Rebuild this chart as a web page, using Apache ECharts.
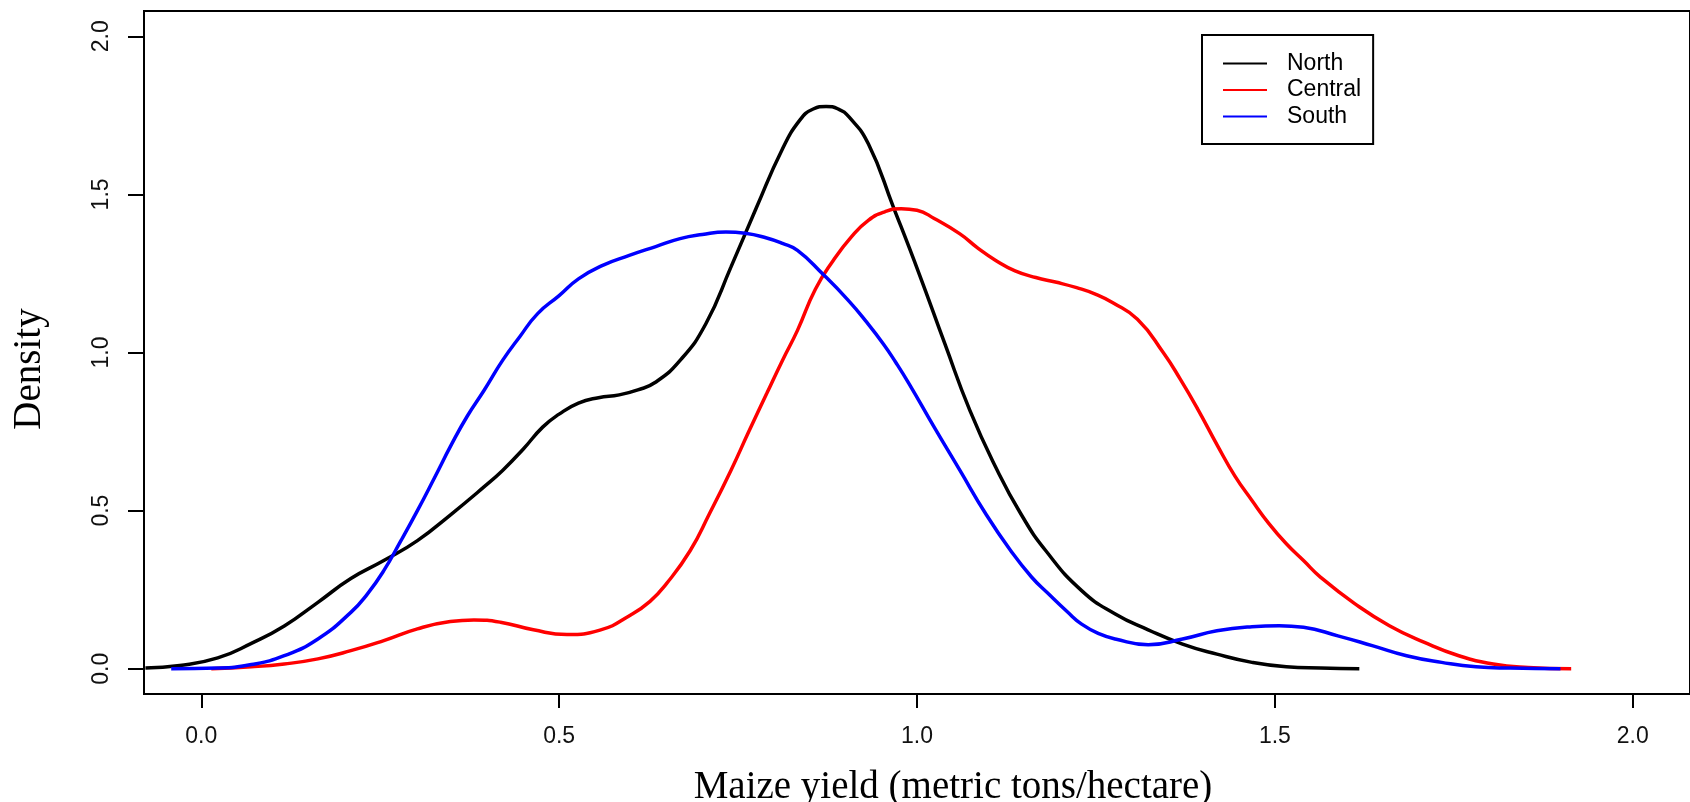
<!DOCTYPE html>
<html>
<head>
<meta charset="utf-8">
<script src="https://cdn.jsdelivr.net/npm/echarts@6/dist/echarts.min.js"></script>
<style>
  html, body { margin: 0; padding: 0; background: #fff; }
  #chart { width: 1690px; height: 802px; }
</style>
</head>
<body>
<div id="chart"></div>
<script>
// density curves, [yield, density]
const north = [
  [-0.078, 0.002], [-0.03, 0.010], [0.023, 0.034], [0.07, 0.08], [0.116, 0.135],
  [0.163, 0.21], [0.209, 0.285], [0.255, 0.342], [0.302, 0.405], [0.35, 0.49],
  [0.395, 0.575], [0.421, 0.627], [0.45, 0.695], [0.477, 0.764], [0.5, 0.805],
  [0.527, 0.84], [0.555, 0.857], [0.584, 0.866], [0.61, 0.882], [0.634, 0.905],
  [0.669, 0.975], [0.705, 1.091], [0.74, 1.27], [0.776, 1.46], [0.811, 1.639],
  [0.836, 1.734], [0.855, 1.77], [0.873, 1.778], [0.89, 1.77], [0.905, 1.745],
  [0.932, 1.66], [0.967, 1.46], [1.003, 1.249], [1.039, 1.027], [1.074, 0.816],
  [1.11, 0.637], [1.145, 0.49], [1.18, 0.373], [1.23, 0.247], [1.277, 0.173],
  [1.323, 0.123], [1.371, 0.078], [1.419, 0.046], [1.468, 0.02], [1.516, 0.006],
  [1.564, 0.002], [1.618, 0.0]
];
const central = [
  [0.014, 0.0], [0.07, 0.006], [0.116, 0.015], [0.163, 0.031], [0.209, 0.057],
  [0.255, 0.089], [0.302, 0.126], [0.348, 0.149], [0.381, 0.154], [0.418, 0.147],
  [0.464, 0.123], [0.511, 0.108], [0.557, 0.122], [0.6, 0.17], [0.627, 0.213],
  [0.65, 0.269], [0.683, 0.373], [0.71, 0.49], [0.74, 0.627], [0.765, 0.75],
  [0.79, 0.87], [0.812, 0.975], [0.833, 1.07], [0.858, 1.2], [0.883, 1.291],
  [0.908, 1.365], [0.932, 1.418], [0.955, 1.445], [0.978, 1.455], [1.0, 1.45],
  [1.024, 1.424], [1.06, 1.375], [1.085, 1.33], [1.11, 1.291], [1.137, 1.258],
  [1.166, 1.237], [1.195, 1.222], [1.223, 1.205], [1.25, 1.184], [1.273, 1.158],
  [1.308, 1.105], [1.344, 1.0], [1.368, 0.915], [1.392, 0.822], [1.42, 0.705],
  [1.444, 0.61], [1.468, 0.532], [1.492, 0.458], [1.516, 0.395], [1.54, 0.342],
  [1.564, 0.289], [1.612, 0.205], [1.66, 0.136], [1.709, 0.083], [1.757, 0.041],
  [1.805, 0.015], [1.854, 0.004], [1.914, 0.0]
];
const south = [
  [-0.042, 0.0], [0.023, 0.002], [0.07, 0.013], [0.116, 0.041], [0.163, 0.094],
  [0.209, 0.178], [0.232, 0.236], [0.255, 0.31], [0.279, 0.405], [0.302, 0.5],
  [0.325, 0.6], [0.35, 0.711], [0.372, 0.8], [0.395, 0.88], [0.421, 0.975],
  [0.445, 1.05], [0.47, 1.123], [0.5, 1.18], [0.527, 1.233], [0.56, 1.275],
  [0.598, 1.307], [0.635, 1.335], [0.669, 1.36], [0.7, 1.373], [0.733, 1.381],
  [0.76, 1.377], [0.79, 1.362], [0.812, 1.345], [0.833, 1.323], [0.868, 1.249],
  [0.904, 1.165], [0.93, 1.095], [0.953, 1.027], [0.97, 0.97], [0.989, 0.901],
  [1.024, 0.764], [1.06, 0.627], [1.096, 0.49], [1.131, 0.373], [1.16, 0.29],
  [1.184, 0.236], [1.21, 0.18], [1.23, 0.141], [1.255, 0.11], [1.277, 0.094],
  [1.323, 0.076], [1.371, 0.094], [1.419, 0.12], [1.468, 0.133], [1.506, 0.136],
  [1.54, 0.131], [1.588, 0.104], [1.636, 0.073], [1.684, 0.041], [1.733, 0.02],
  [1.781, 0.006], [1.829, 0.002], [1.899, 0.0]
];
const regions = ['North', 'Central', 'South'];
const colors = ['#000000', '#ff0000', '#0000ff'];
const xTicks = [0, 0.5, 1, 1.5, 2];
const yTicks = [0, 0.5, 1, 1.5, 2];

const chart = echarts.init(document.getElementById('chart'), null, { renderer: 'canvas' });

const tickFont = {
  fontFamily: 'Liberation Sans, Arial, sans-serif',
  fontSize: 23,
  color: '#111'
};

let option = {
  animation: false,
  color: colors,
  grid: {
    left: 144,
    top: 11,
    width: 1549,
    height: 683,
    show: true,
    borderColor: '#000',
    borderWidth: 2
  },
  legend: {
    data: regions,
    orient: 'vertical',
    left: 1202,
    top: 35,
    icon: 'rect',
    itemWidth: 44,
    itemHeight: 2,
    itemGap: 3.5,
    padding: [17, 12, 16, 21],
    borderColor: '#000',
    borderWidth: 2,
    textStyle: {
      fontFamily: 'Liberation Sans, Arial, sans-serif',
      fontSize: 23,
      lineHeight: 23,
      color: '#000',
      padding: [0, 0, 0, 15]
    }
  },
  xAxis: {
    type: 'value',
    min: -0.08,
    max: 2.08,
    axisLine: { show: false, onZero: false },
    splitLine: { show: false },
    axisTick: {
      show: true,
      length: 14,
      customValues: xTicks,
      lineStyle: { color: '#000', width: 2 }
    },
    axisLabel: {
      customValues: xTicks,
      margin: 31,
      formatter: function (v) { return v.toFixed(1); },
      ...tickFont
    }
  },
  yAxis: {
    type: 'value',
    min: -0.08,
    max: 2.08,
    axisLine: { show: false, onZero: false },
    splitLine: { show: false },
    axisTick: {
      show: true,
      length: 16,
      customValues: yTicks,
      lineStyle: { color: '#000', width: 2 }
    },
    axisLabel: {
      customValues: yTicks,
      rotate: 90,
      margin: 31,
      formatter: function (v) { return v.toFixed(1); },
      ...tickFont
    }
  },
  graphic: [
    {
      type: 'text',
      x: 953,
      y: 788,
      style: {
        text: 'Maize yield (metric tons/hectare)',
        font: '39px "Liberation Serif", "DejaVu Serif", serif',
        fill: '#000',
        align: 'center',
        verticalAlign: 'middle'
      }
    },
    {
      type: 'text',
      x: 30,
      y: 369,
      rotation: Math.PI / 2,
      style: {
        text: 'Density',
        font: '39px "Liberation Serif", "DejaVu Serif", serif',
        fill: '#000',
        align: 'center',
        verticalAlign: 'middle'
      }
    }
  ],
  series: [north, central, south].map(function (d, i) {
    return {
      name: regions[i],
      type: 'line',
      data: d,
      smooth: 0.5,
      symbol: 'none',
      lineStyle: { width: 3.5, color: colors[i] }
    };
  })
};

chart.setOption(option);
</script>
</body>
</html>
